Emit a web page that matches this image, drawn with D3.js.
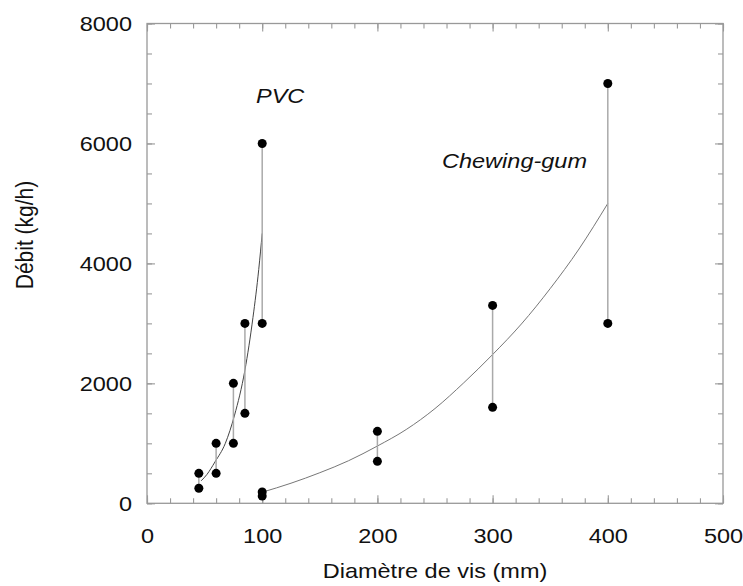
<!DOCTYPE html>
<html>
<head>
<meta charset="utf-8">
<script src="https://cdn.jsdelivr.net/npm/d3@7"></script>
<style>
  body { margin: 0; background: #fff; }
  svg text { font-family: "Liberation Sans", Arial, sans-serif; fill: #111; }
</style>
</head>
<body>
<svg id="chart" width="743" height="586"></svg>
<script>
// PVC measurements (min / max flow for each screw diameter)
const pvcX    = [45, 60, 75, 85, 100];
const pvcLow  = [250, 500, 1000, 1500, 3000];
const pvcHigh = [500, 1000, 2000, 3000, 6000];

// Chewing-gum measurements
const gumX    = [100, 200, 300, 400];
const gumLow  = [120, 700, 1600, 3000];
const gumHigh = [190, 1200, 3300, 7000];

// fitted curves
const pvcFitX = [47, 52, 59, 68, 76, 85, 92, 97, 100];
const pvcFitY = [375, 480, 690, 1000, 1470, 2220, 3100, 3900, 4500];
const gumFitX = [100, 125, 150, 175, 200, 225, 250, 275, 300, 325, 350, 375, 400];
const gumFitY = [185, 335, 510, 710, 955, 1230, 1580, 2010, 2480, 2990, 3580, 4240, 5000];

// axis ticks
const xTicks = [0, 100, 200, 300, 400, 500];
const yTicks = [0, 2000, 4000, 6000, 8000];
const xMinor = d3.range(0, 501, 20);
const yMinor = d3.range(0, 8001, 500);

let chart = d3.select("#chart");
let plotLeft = 147, plotRight = 723, plotTop = 23.5, plotBottom = 503.3;
let stretch = "scale(1.12,1)";

let x = d3.scaleLinear().domain([0, 500]).range([plotLeft, plotRight]);
let y = d3.scaleLinear().domain([0, 8000]).range([plotBottom, plotTop]);

// frame
chart.append("rect")
    .attr("x", plotLeft).attr("y", plotTop)
    .attr("width", plotRight - plotLeft).attr("height", plotBottom - plotTop)
    .attr("fill", "none")
    .attr("stroke", "#999")
    .attr("stroke-width", 1.3);

function styleAxis(g) {
    g.select(".domain").remove();
    g.selectAll("line").attr("stroke", "#999").attr("stroke-width", 1.1);
}

// minor ticks on all four sides (inward)
chart.append("g").attr("transform", "translate(0," + plotBottom + ")")
    .call(d3.axisBottom(x).tickValues(xMinor).tickSize(-5).tickFormat(""))
    .call(styleAxis);
chart.append("g").attr("transform", "translate(0," + plotTop + ")")
    .call(d3.axisTop(x).tickValues(xMinor).tickSize(-5).tickFormat(""))
    .call(styleAxis);
chart.append("g").attr("transform", "translate(" + plotLeft + ",0)")
    .call(d3.axisLeft(y).tickValues(yMinor).tickSize(-5).tickFormat(""))
    .call(styleAxis);
chart.append("g").attr("transform", "translate(" + plotRight + ",0)")
    .call(d3.axisRight(y).tickValues(yMinor).tickSize(-5).tickFormat(""))
    .call(styleAxis);

// major ticks
let xAxisGroup = chart.append("g").attr("transform", "translate(0," + plotBottom + ")")
    .call(d3.axisBottom(x).tickValues(xTicks).tickSize(-8).tickPadding(25).tickFormat(d3.format("d")))
    .call(styleAxis);
chart.append("g").attr("transform", "translate(0," + plotTop + ")")
    .call(d3.axisTop(x).tickValues(xTicks).tickSize(-8).tickFormat(""))
    .call(styleAxis);
let yAxisGroup = chart.append("g").attr("transform", "translate(" + plotLeft + ",0)")
    .call(d3.axisLeft(y).tickValues(yTicks).tickSize(-8).tickFormat(d3.format("d")))
    .call(styleAxis);
chart.append("g").attr("transform", "translate(" + plotRight + ",0)")
    .call(d3.axisRight(y).tickValues(yTicks).tickSize(-8).tickFormat(""))
    .call(styleAxis);

xAxisGroup.selectAll("text")
    .attr("font-size", 21)
    .attr("fill", "#111")
    .attr("transform", stretch);
yAxisGroup.selectAll("text")
    .attr("font-size", 21)
    .attr("fill", "#111")
    .attr("x", 0)
    .attr("transform", "translate(-15,0) " + stretch);

// axis titles
chart.append("text")
    .text("Diamètre de vis (mm)")
    .attr("font-size", 21)
    .attr("text-anchor", "middle")
    .attr("transform", "translate(" + ((plotLeft + plotRight) / 2) + ",578) " + stretch);

chart.append("text")
    .text("Débit (kg/h)")
    .attr("font-size", 21)
    .attr("text-anchor", "middle")
    .attr("transform", "translate(33,235) rotate(-90) scale(1,1.12)");

// series labels
chart.append("text")
    .text("PVC")
    .attr("font-size", 21)
    .attr("font-style", "italic")
    .attr("transform", "translate(256,103) " + stretch);
chart.append("text")
    .text("Chewing-gum")
    .attr("font-size", 21)
    .attr("font-style", "italic")
    .attr("transform", "translate(442,168) " + stretch);

// fitted curves
let line = d3.line()
    .x(function (d) { return x(d[0]); })
    .y(function (d) { return y(d[1]); })
    .curve(d3.curveMonotoneX);

chart.append("path")
    .datum(d3.zip(pvcFitX, pvcFitY))
    .attr("d", line)
    .attr("fill", "none")
    .attr("stroke", "#444")
    .attr("stroke-width", 1);
chart.append("path")
    .datum(d3.zip(gumFitX, gumFitY))
    .attr("d", line)
    .attr("fill", "none")
    .attr("stroke", "#777")
    .attr("stroke-width", 1);

// min-max ranges and points
let pairs = d3.zip(pvcX, pvcLow, pvcHigh).concat(d3.zip(gumX, gumLow, gumHigh));

chart.selectAll("line.range")
    .data(pairs).enter()
        .append("line")
            .attr("class", "range")
            .attr("x1", function (d) { return x(d[0]); })
            .attr("x2", function (d) { return x(d[0]); })
            .attr("y1", function (d) { return y(d[1]); })
            .attr("y2", function (d) { return y(d[2]); })
            .attr("stroke", "#aaa")
            .attr("stroke-width", 1.5);

let points = [];
pairs.forEach(function (d) {
    points.push([d[0], d[1]]);
    points.push([d[0], d[2]]);
});

chart.selectAll("circle")
    .data(points).enter()
        .append("circle")
            .attr("r", 4.5)
            .attr("cx", function (d) { return x(d[0]); })
            .attr("cy", function (d) { return y(d[1]); })
            .style("fill", "#000");
</script>
</body>
</html>
